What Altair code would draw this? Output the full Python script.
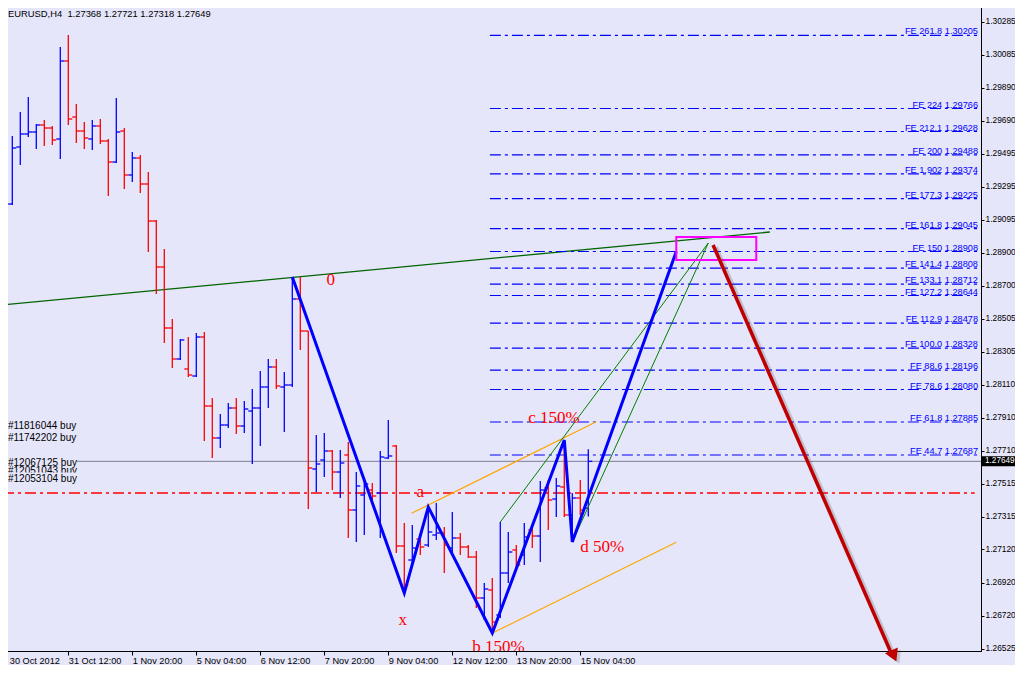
import json
import numpy as np
import pandas as pd
import altair as alt

# ---------------- data ----------------
OPEN = [1.28977, 1.29193, 1.29535, 1.29613, 1.29625, 1.29667, 1.29649, 1.29583, 1.30051, 1.29715,
        1.29631, 1.29583, 1.29661, 1.29571, 1.29445, 1.29631, 1.29367, 1.29469, 1.29313, 1.29091,
        1.28815, 1.28449, 1.28263, 1.28203, 1.28161, 1.28395, 1.27981, 1.27789, 1.27867, 1.27969,
        1.27861, 1.27951, 1.27969, 1.28095, 1.28215, 1.28095, 1.28107, 1.28623, 1.28431, 1.27603,
        1.27657, 1.27711, 1.27585, 1.27687, 1.27357, 1.27447, 1.27477, 1.27459, 1.27669, 1.27741,
        1.27141, 1.27057, 1.27183, 1.27147, 1.27207, 1.27219, 1.27129, 1.27189, 1.27135, 1.27075,
        1.26829, 1.26877, 1.26727, 1.26979, 1.27117, 1.27087, 1.27237, 1.27201, 1.27489, 1.27423,
        1.27495, 1.27327, 1.27429, 1.27368]
HIGH = [1.29265, 1.29601, 1.29745, 1.29835, 1.29673, 1.29697, 1.29661, 1.30135, 1.30207, 1.29793,
        1.29685, 1.29697, 1.29703, 1.29583, 1.29829, 1.29649, 1.29505, 1.29487, 1.29385, 1.29097,
        1.28923, 1.28503, 1.28383, 1.28395, 1.28419, 1.28425, 1.28029, 1.27933, 1.27999, 1.28029,
        1.28011, 1.28083, 1.28191, 1.28263, 1.28263, 1.28185, 1.28755, 1.28755, 1.28431, 1.27807,
        1.27819, 1.27717, 1.27717, 1.27765, 1.27585, 1.27537, 1.27519, 1.27711, 1.27897, 1.27747,
        1.27279, 1.27267, 1.27219, 1.27375, 1.27399, 1.27255, 1.27345, 1.27219, 1.27147, 1.27111,
        1.26919, 1.26949, 1.27285, 1.27225, 1.27147, 1.27279, 1.27249, 1.27531, 1.27537, 1.27549,
        1.27777, 1.27459, 1.27537, 1.27721]
LOW = [1.28863, 1.29187, 1.29427, 1.29595, 1.29523, 1.29541, 1.29547, 1.29463, 1.29667, 1.29559,
       1.29523, 1.29517, 1.29553, 1.29241, 1.29439, 1.29283, 1.29325, 1.29259, 1.28905, 1.28653,
       1.28359, 1.28209, 1.28257, 1.28155, 1.28155, 1.27771, 1.27669, 1.27729, 1.27849, 1.27813,
       1.27819, 1.27633, 1.27741, 1.27969, 1.28083, 1.27825, 1.28095, 1.28317, 1.27363, 1.27465,
       1.27555, 1.27477, 1.27429, 1.27189, 1.27165, 1.27207, 1.27405, 1.27189, 1.27663, 1.27099,
       1.26859, 1.27015, 1.27087, 1.27135, 1.27177, 1.26979, 1.27087, 1.27087, 1.27069, 1.26769,
       1.26697, 1.26619, 1.26709, 1.26919, 1.27015, 1.27027, 1.27129, 1.27045, 1.27237, 1.27315,
       1.27315, 1.27165, 1.27327, 1.27318]
CLOSE = [1.29193, 1.29529, 1.29613, 1.29625, 1.29667, 1.29649, 1.29577, 1.30051, 1.29703, 1.29631,
         1.29589, 1.29661, 1.29571, 1.29445, 1.29625, 1.29367, 1.29469, 1.29313, 1.29091, 1.28815,
         1.28449, 1.28263, 1.28377, 1.28167, 1.28395, 1.27981, 1.27789, 1.27867, 1.27969, 1.27861,
         1.27963, 1.27969, 1.28095, 1.28215, 1.28101, 1.28107, 1.28623, 1.28431, 1.27609, 1.27633,
         1.27711, 1.27585, 1.27639, 1.27357, 1.27501, 1.27513, 1.27441, 1.27675, 1.27681, 1.27141,
         1.26907, 1.27129, 1.27135, 1.27225, 1.27219, 1.27147, 1.27189, 1.27135, 1.27075, 1.26829,
         1.26883, 1.26685, 1.26979, 1.27105, 1.27027, 1.27195, 1.27201, 1.27477, 1.27417, 1.27501,
         1.27327, 1.27429, 1.27357, 1.27649]

X_TICK_BARS = [0, 8, 16, 24, 32, 40, 48, 56, 64, 72]
X_TICK_LABELS = ["30 Oct 2012", "31 Oct 12:00", "1 Nov 20:00", "5 Nov 04:00", "6 Nov 12:00",
                 "7 Nov 20:00", "9 Nov 04:00", "12 Nov 12:00", "13 Nov 20:00", "15 Nov 04:00"]
Y_TICKS = [1.30285, 1.30085, 1.29890, 1.29690, 1.29495, 1.29295, 1.29095, 1.28900, 1.28700, 1.28505,
           1.28305, 1.28110, 1.27910, 1.27710, 1.27515, 1.27315, 1.27120, 1.26920, 1.26720, 1.26525]

FIB_NAMES = ["261.8", "224", "212.1", "200", "1.902", "177.3", "161.8", "150", "141.4", "133.1",
             "127.2", "112.9", "100.0", "88.6", "78.6", "61.8", "44.7"]
FIB_PRICES = [1.30205, 1.29766, 1.29628, 1.29488, 1.29374, 1.29225, 1.29045, 1.28908, 1.28808, 1.28712,
              1.28644, 1.28478, 1.28328, 1.28196, 1.28080, 1.27885, 1.27687]
FIB_START_BAR = 60.7
FIB_END_BAR = 121.6

ORDER_TEXT = ["#11816044 buy", "#11742202 buy", "#12067125 buy", "#12051043 buy", "#12053104 buy"]
ORDER_PRICES = [1.27861, 1.27789, 1.27639, 1.27591, 1.27543]
RED_LINE_PRICE = 1.27459
RED_LINE_END_BAR = 121.3

ZIGZAG_BARS = [36, 50, 53, 61, 70, 71, 84]
ZIGZAG_PRICES = [1.28755, 1.26859, 1.27375, 1.26619, 1.27777, 1.27165, 1.28908]

LETTER_TEXT = ["0", "a", "x"]
LETTER_BARS = [40.8, 52.0, 49.8]
LETTER_PRICES = [1.28737, 1.27465, 1.26697]
TAG_TEXT = ["b 150%", "c 150%", "d 50%"]
TAG_BARS = [58.5, 65.5, 72.0]
TAG_PRICES = [1.26535, 1.27909, 1.27135]

# segments: bar0, price0, bar1, price1
TREND_SEG = [(-0.5, 1.28586, 95.7, 1.29025)]
CHANNEL_SEGS = [(62.0, 1.27285, 88.0, 1.28959), (71.0, 1.27165, 88.0, 1.28959)]
ORANGE_SEGS = [(50.9, 1.27337, 74.0, 1.27887), (61.1, 1.26621, 84.0, 1.27163)]
BOX = (84.0, 1.28995, 94.0, 1.28857)
ARROW = (88.6, 1.28947, 110.8, 1.26505)
ARROW_HEAD = (111.2, 1.26481)

# ---------------- layout / style ----------------
X_MIN, X_MAX = -0.1625, 122.09
Y_MIN, Y_MAX = 1.26511, 1.30405
W, H = 978, 649
PAD = {"left": -5, "top": -6, "right": 34, "bottom": 14}
BG = "#E6E6FA"
SANS = "Liberation Sans"
SERIF = "Liberation Serif"

labelexpr = "%s[indexof(%s, datum.value)]" % (json.dumps(X_TICK_LABELS), json.dumps(X_TICK_BARS))
x_axis = alt.Axis(values=X_TICK_BARS, labelExpr=labelexpr, labelAlign="left", labelBaseline="top",
                  tickSize=4, labelPadding=1, labelOverlap=False, labelFlush=False, grid=False,
                  title=None, labelFont=SANS, labelFontSize=9.2, labelColor="black",
                  tickColor="black", domainColor="black",
                  labelOffset={"condition": {"test": "datum.value === 0", "value": 5}, "value": 0})
y_axis = alt.Axis(orient="right", values=Y_TICKS, format=".5f", tickSize=3, labelPadding=1,
                  labelOverlap=False, grid=False, title=None, labelFont=SANS, labelFontSize=8.4,
                  labelColor="black", tickColor="black", domainColor="black", labelOffset=-1.5)

xs = alt.Scale(domain=[X_MIN, X_MAX], nice=False, zero=False)
ys = alt.Scale(domain=[Y_MIN, Y_MAX], nice=False, zero=False)


def X(f):
    return alt.X(f, type="quantitative", scale=xs, axis=x_axis)


def Y(f):
    return alt.Y(f, type="quantitative", scale=ys, axis=y_axis)


def seg_layer(segs, color, width, clip=True):
    df = pd.DataFrame(segs, columns=["x0", "y0", "x1", "y1"])
    return alt.Chart(df).mark_rule(color=color, strokeWidth=width, clip=clip).encode(
        x=X("x0"), y=Y("y0"), x2="x1", y2="y1")


layers = []

# green long trendline
layers.append(seg_layer(TREND_SEG, "#006400", 1.3))

# fibonacci lines
fib = pd.DataFrame({"name": FIB_NAMES, "p": FIB_PRICES})
fib["x0"] = FIB_START_BAR
fib["x1"] = FIB_END_BAR
fib["label"] = ["FE %s %.5f" % (n, p) for n, p in zip(FIB_NAMES, FIB_PRICES)]
layers.append(alt.Chart(fib).mark_rule(color="#0000FF", strokeWidth=1.1, strokeDash=[11, 4, 3, 4]).encode(
    x=X("x0"), x2="x1", y=Y("p")))

# red dash-dot level
red = pd.DataFrame({"x0": [X_MIN], "x1": [RED_LINE_END_BAR], "p": [RED_LINE_PRICE]})
layers.append(alt.Chart(red).mark_rule(color="#FF0000", strokeWidth=1.6, strokeDash=[11, 4, 3, 4]).encode(
    x=X("x0"), x2="x1", y=Y("p")))

# current price line
cur = pd.DataFrame({"p": [CLOSE[-1]], "t": ["%.5f" % CLOSE[-1]]})
layers.append(alt.Chart(cur).mark_rule(color="#7C7C94", strokeWidth=1).encode(y=Y("p")))

# order labels (with background boxes)
orders = pd.DataFrame({"t": ORDER_TEXT, "p": ORDER_PRICES})
first, last = orders.iloc[:-1], orders.iloc[-1:]
for part in (first, last):
    layers.append(alt.Chart(part).mark_rect(color=BG, yOffset=-6.5, y2Offset=5).encode(
        x=alt.value(4), x2=alt.value(74), y=Y("p"), y2="p"))
    layers.append(alt.Chart(part).mark_text(align="left", baseline="middle", font=SANS, fontSize=10,
                                             color="black").encode(
        x=alt.value(5), y=Y("p"), text="t:N"))

# OHLC bars
bars = pd.DataFrame({"i": np.arange(len(OPEN)), "o": OPEN, "h": HIGH, "l": LOW, "c": CLOSE})
bars["dir"] = np.where(bars["c"] >= bars["o"], "up", "down")
col = alt.Color("dir:N", scale=alt.Scale(domain=["up", "down"], range=["#0000FF", "#FF0000"]), legend=None)
layers.append(alt.Chart(bars).mark_rule(strokeWidth=1.3).encode(
    x=X("i"), y=Y("l"), y2="h", color=col))
layers.append(alt.Chart(bars).mark_rule(strokeWidth=1.3, xOffset=-4, x2Offset=0).encode(
    x=X("i"), x2="i", y=Y("o"), color=col))
layers.append(alt.Chart(bars).mark_rule(strokeWidth=1.3, xOffset=0, x2Offset=4).encode(
    x=X("i"), x2="i", y=Y("c"), color=col))

# orange & green channels
layers.append(seg_layer(ORANGE_SEGS, "#FFA500", 1.2))
layers.append(seg_layer(CHANNEL_SEGS, "#008000", 1))

# blue zigzag
zz = pd.DataFrame({"i": ZIGZAG_BARS, "p": ZIGZAG_PRICES, "k": range(len(ZIGZAG_BARS))})
layers.append(alt.Chart(zz).mark_line(color="#0000FF", strokeWidth=3, clip=True).encode(
    x=X("i"), y=Y("p"), order="k:Q"))

# magenta box
box = pd.DataFrame([BOX], columns=["x0", "y0", "x1", "y1"])
layers.append(alt.Chart(box).mark_rect(fillOpacity=0, stroke="#FF00FF", strokeWidth=2).encode(
    x=X("x0"), x2="x1", y=Y("y0"), y2="y1"))

# red arrow with soft shadow
arr = pd.DataFrame([ARROW], columns=["x0", "y0", "x1", "y1"])
head = pd.DataFrame([ARROW_HEAD], columns=["x", "y"])
layers.append(alt.Chart(arr).mark_rule(color="#555555", strokeWidth=4, opacity=0.25,
                                        xOffset=3, x2Offset=3, yOffset=2, y2Offset=2).encode(
    x=X("x0"), y=Y("y0"), x2="x1", y2="y1"))
layers.append(alt.Chart(head).mark_point(shape="triangle-down", filled=True, size=200, angle=336,
                                          color="#555555", opacity=0.25, xOffset=3, yOffset=2).encode(
    x=X("x"), y=Y("y")))
layers.append(alt.Chart(arr).mark_rule(color="#C00000", strokeWidth=3.5).encode(
    x=X("x0"), y=Y("y0"), x2="x1", y2="y1"))
layers.append(alt.Chart(head).mark_point(shape="triangle-down", filled=True, size=200, angle=336,
                                          color="#C00000", opacity=1).encode(
    x=X("x"), y=Y("y")))

# pattern labels
letters = pd.DataFrame({"t": LETTER_TEXT, "i": LETTER_BARS, "p": LETTER_PRICES})
layers.append(alt.Chart(letters).mark_text(font=SERIF, fontSize=17, color="#FF0000", align="center",
                                            baseline="middle").encode(x=X("i"), y=Y("p"), text="t:N"))
tags = pd.DataFrame({"t": TAG_TEXT, "i": TAG_BARS, "p": TAG_PRICES})
layers.append(alt.Chart(tags).mark_text(font=SERIF, fontSize=17, color="#FF0000", align="left",
                                         baseline="middle", clip=True).encode(x=X("i"), y=Y("p"), text="t:N"))

# fib labels
layers.append(alt.Chart(fib).mark_text(font=SANS, fontSize=9.2, color="#0000FF", align="right",
                                        baseline="alphabetic", dy=-1).encode(
    x=alt.value(975), y=Y("p"), text="label:N"))

# title
title = pd.DataFrame({"t": ["EURUSD,H4\u00a0\u00a0%.5f %.5f %.5f %.5f" % (OPEN[-1], HIGH[-1], LOW[-1], CLOSE[-1])]})
layers.append(alt.Chart(title).mark_text(font=SANS, fontSize=9.4, color="black", align="left",
                                          baseline="middle").encode(
    x=alt.value(5), y=alt.value(12), text="t:N"))

# current price box on the axis
layers.append(alt.Chart(cur).mark_rect(color="black", yOffset=-5, y2Offset=5).encode(
    x=alt.value(979), x2=alt.value(1022), y=Y("p"), y2="p"))
layers.append(alt.Chart(cur).mark_text(font=SANS, fontSize=8.2, color="white", align="left",
                                        baseline="middle").encode(
    x=alt.value(982), y=Y("p"), text="t:N"))

chart = alt.layer(*layers).properties(
    width=W, height=H, background=BG,
    autosize=alt.AutoSizeParams(type="none"),
    padding=PAD,
).configure_view(stroke="black", strokeWidth=1)

chart.save("out.html", embed_options={"renderer": "svg", "actions": False})
